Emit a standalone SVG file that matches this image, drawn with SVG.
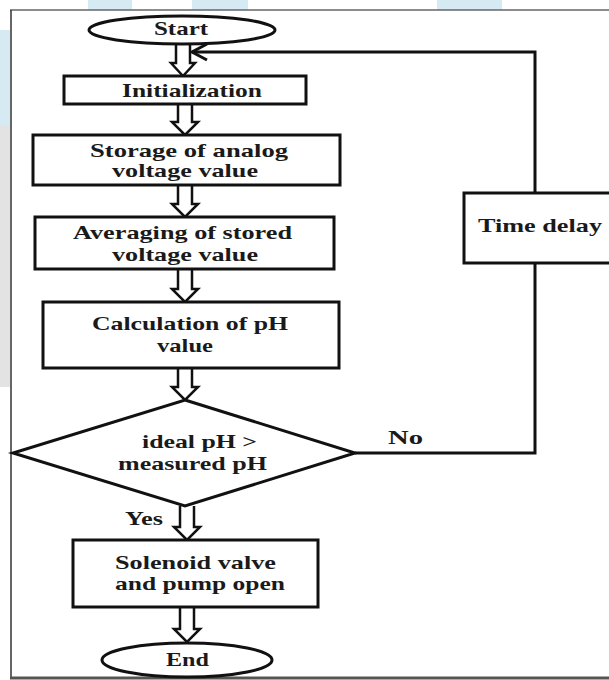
<svg xmlns="http://www.w3.org/2000/svg" width="609" height="680" viewBox="0 0 609 680">
<defs>
<style>
.shape{fill:#fff;stroke:#111;stroke-width:3}
.conn{fill:none;stroke:#111;stroke-width:3}
.barrow{fill:#fff;stroke:#111;stroke-width:2.5;stroke-linejoin:miter}
.t{font-family:"Liberation Serif","Times New Roman",serif;font-weight:bold;font-size:19px;fill:#1a1a1a}
</style>
</defs>
<g id="background">
<rect x="0" y="0" width="609" height="680" fill="#fff"/>
<polygon points="88,0 132,0 132,10 88,10" fill="#d6eaf3"/>
<polygon points="0,30 10,30 10,125 0,125" fill="#d6eaf3"/>
<rect x="0" y="125" width="10" height="262" fill="#e3e3e3"/>
<rect x="192" y="0" width="56" height="10" fill="#d6eaf3"/>
<rect x="437" y="0" width="65" height="10" fill="#d6eaf3"/>
<rect x="11" y="10" width="598" height="668" fill="#fff"/>
<line x1="10" y1="10" x2="609" y2="10" stroke="#666" stroke-width="1.5"/>
<line x1="11" y1="10" x2="11" y2="678" stroke="#333" stroke-width="1.5"/>
<line x1="10" y1="678" x2="609" y2="678" stroke="#555" stroke-width="3"/>
</g>
<g id="connectors">
<path class="barrow" d="M176,44 V63 H171 L183,76 L195,63 H190 V44"/>
<path class="barrow" d="M178,104 V122 H172 L185,135 L198,122 H192 V104"/>
<path class="barrow" d="M178,185 V204 H172 L185,217 L198,204 H192 V185"/>
<path class="barrow" d="M178,269 V289 H172 L185,302 L198,289 H192 V269"/>
<path class="barrow" d="M178,368 V387 H172 L185,400 L198,387 H192 V368"/>
<path class="barrow" d="M180,506 V527 H174 L187,540 L200,527 H194 V506"/>
<path class="barrow" d="M180,607 V629 H174 L187,642 L200,629 H194 V607"/>
<polyline class="conn" points="355,453 535,453 535,263"/>
<polyline class="conn" points="535,193 535,52 192,52"/>
<polyline class="conn" points="207,44 192,52 207,60"/>
</g>
<g id="start">
<ellipse class="shape" cx="182" cy="30" rx="93" ry="14"/>
<text class="t" x="154" y="35" font-size="18" textLength="54" lengthAdjust="spacingAndGlyphs">Start</text>
</g>
<g id="init">
<rect class="shape" x="64" y="76" width="242" height="28"/>
<text class="t" x="122" y="97" font-size="21" textLength="140" lengthAdjust="spacingAndGlyphs">Initialization</text>
</g>
<g id="storage">
<rect class="shape" x="33" y="135" width="307" height="50"/>
<text class="t" x="90" y="157" textLength="198" lengthAdjust="spacingAndGlyphs">Storage of analog</text>
<text class="t" x="112" y="177" textLength="146" lengthAdjust="spacingAndGlyphs">voltage value</text>
</g>
<g id="averaging">
<rect class="shape" x="35" y="217" width="299" height="52"/>
<text class="t" x="73" y="239" textLength="219" lengthAdjust="spacingAndGlyphs">Averaging of stored</text>
<text class="t" x="112" y="261" textLength="146" lengthAdjust="spacingAndGlyphs">voltage value</text>
</g>
<g id="calc">
<rect class="shape" x="43" y="302" width="296" height="66"/>
<text class="t" x="92" y="330" textLength="196" lengthAdjust="spacingAndGlyphs">Calculation of pH</text>
<text class="t" x="157" y="352" textLength="56" lengthAdjust="spacingAndGlyphs">value</text>
</g>
<g id="decision">
<polygon class="shape" points="185,400 355,453 185,506 13,453"/>
<text class="t" x="142" y="448" textLength="115" lengthAdjust="spacingAndGlyphs">ideal pH &gt;</text>
<text class="t" x="118" y="470" textLength="149" lengthAdjust="spacingAndGlyphs">measured pH</text>
</g>
<g id="labels">
<text class="t" x="388" y="444" textLength="35" lengthAdjust="spacingAndGlyphs">No</text>
<text class="t" x="125" y="525" textLength="38" lengthAdjust="spacingAndGlyphs">Yes</text>
</g>
<g id="timedelay">
<rect class="shape" x="464" y="193" width="160" height="70"/>
<text class="t" x="478" y="232" font-size="21" textLength="124" lengthAdjust="spacingAndGlyphs">Time delay</text>
</g>
<g id="solenoid">
<rect class="shape" x="73" y="540" width="245" height="67"/>
<text class="t" x="115" y="569" textLength="161" lengthAdjust="spacingAndGlyphs">Solenoid valve</text>
<text class="t" x="115" y="590" textLength="170" lengthAdjust="spacingAndGlyphs">and pump open</text>
</g>
<g id="end">
<ellipse class="shape" cx="187" cy="660" rx="85" ry="17"/>
<text class="t" x="166" y="666" font-size="19" textLength="43" lengthAdjust="spacingAndGlyphs">End</text>
</g>
</svg>
